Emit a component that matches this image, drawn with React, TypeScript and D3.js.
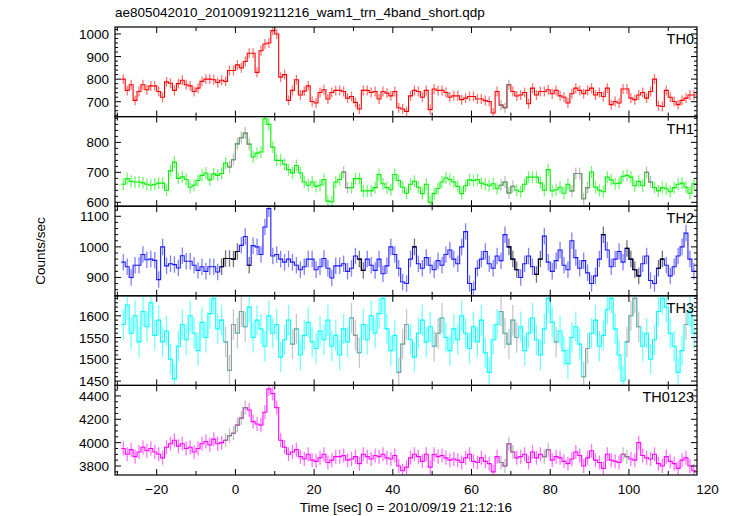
import * as d3 from "d3";

// light curve: 1 s bins starting at t = -29 s
const T0 = -29;
const title = "ae805042010_20100919211216_wam1_trn_4band_short.qdp";
const xLabel = "Time [sec] 0 = 2010/09/19 21:12:16";
const yLabel = "Counts/sec";
const xTicks = [-20, 0, 20, 40, 60, 80, 100, 120];
const panelNames = ["TH0", "TH1", "TH2", "TH3", "TH0123"];

const th0 = [
  800, 750, 775, 706, 745, 775, 753, 770, 770, 745,
  720, 788, 782, 750, 780, 795, 775, 770, 745, 760,
  790, 800, 800, 797, 785, 795, 790, 838, 838, 863,
  850, 878, 915, 915, 830, 926, 956, 960, 1015, 1000,
  809, 820, 706, 750, 797, 730, 747, 770, 701, 694,
  741, 753, 712, 741, 750, 750, 745, 716, 723, 697,
  668, 750, 750, 741, 745, 712, 745, 738, 726, 745,
  673, 668, 657, 726, 750, 745, 720, 750, 665, 756,
  750, 750, 741, 720, 726, 726, 709, 716, 723, 723,
  712, 712, 705, 701, 650, 745, 685, 673, 775, 745,
  725, 730, 741, 691, 760, 730, 745, 745, 753, 735,
  750, 726, 720, 694, 735, 760, 750, 735, 750, 760,
  730, 741, 723, 760, 687, 701, 694, 756, 756, 716,
  709, 730, 741, 716, 745, 800, 682, 679, 750, 720,
  701, 687, 706, 716, 730, 730,
];

const th1 = [
  660, 679, 670, 668, 668, 665, 660, 657, 660, 664,
  664, 640, 705, 734, 680, 685, 676, 650, 657, 673,
  690, 698, 675, 695, 690, 696, 731, 718, 742, 795,
  816, 831, 794, 751, 764, 768, 879, 860, 784, 740,
  740, 727, 709, 698, 723, 698, 668, 657, 668, 653,
  657, 676, 604, 601, 668, 676, 701, 649, 649, 679,
  679, 638, 638, 638, 649, 693, 662, 649, 642, 693,
  673, 650, 630, 660, 670, 650, 629, 660, 600, 629,
  646, 668, 682, 676, 668, 653, 629, 655, 675, 672,
  676, 664, 660, 655, 662, 645, 657, 668, 631, 653,
  640, 635, 660, 684, 684, 684, 665, 640, 709, 638,
  642, 650, 630, 660, 638, 696, 696, 612, 649, 701,
  650, 640, 635, 684, 675, 662, 664, 687, 690, 684,
  655, 670, 655, 700, 668, 649, 638, 649, 645, 635,
  649, 660, 664, 650, 630, 662,
];

const th2 = [
  950, 935, 900, 940, 940, 975, 958, 960, 956, 893,
  1000, 938, 945, 942, 931, 971, 953, 953, 940, 923,
  935, 920, 935, 935, 918, 935, 962, 962, 960, 985,
  1005, 1034, 940, 1004, 1000, 975, 1065, 1125, 970, 975,
  960, 950, 960, 950, 940, 925, 935, 960, 960, 925,
  935, 962, 930, 898, 938, 938, 945, 920, 930, 970,
  960, 923, 960, 940, 923, 960, 912, 938, 1000, 975,
  930, 885, 880, 960, 1000, 945, 930, 965, 940, 925,
  955, 940, 975, 990, 960, 945, 1000, 1050, 880, 860,
  930, 960, 985, 945, 930, 970, 955, 1040, 1000, 960,
  925, 900, 945, 970, 935, 910, 960, 1035, 950, 920,
  955, 990, 940, 925, 1020, 965, 930, 955, 915, 880,
  905, 960, 1040, 990, 935, 960, 985, 950, 995, 960,
  925, 905, 945, 970, 890, 880, 930, 960, 940, 905,
  935, 970, 1000, 1045, 960, 920,
];

const th3 = [
  1580, 1625, 1560, 1600, 1540, 1610, 1575, 1630, 1555, 1590,
  1540, 1565, 1500, 1455, 1530, 1580, 1545, 1600, 1560, 1520,
  1585, 1550, 1605, 1640, 1570, 1590, 1540, 1475, 1580, 1560,
  1610, 1575, 1620, 1550, 1590, 1570, 1530, 1600, 1560, 1580,
  1505, 1545, 1590, 1535, 1570, 1510, 1555, 1585, 1540, 1525,
  1565, 1545, 1590, 1530, 1555, 1510, 1570, 1540, 1595, 1555,
  1515, 1580, 1545, 1600, 1560, 1605, 1640, 1570, 1520, 1555,
  1470, 1535, 1580, 1545, 1505, 1560, 1590, 1540, 1575, 1530,
  1560, 1595, 1550, 1520, 1570, 1545, 1600, 1560, 1525, 1575,
  1540, 1590, 1515, 1470, 1545, 1580, 1610, 1560, 1535, 1590,
  1550, 1575, 1520, 1560, 1595, 1545, 1510, 1570, 1640, 1585,
  1540, 1565, 1520, 1490, 1550, 1575, 1535, 1460, 1525, 1560,
  1590, 1530, 1555, 1615, 1640, 1570, 1510, 1450, 1540, 1600,
  1640, 1575, 1530, 1560, 1500, 1545, 1610, 1640, 1620, 1560,
  1530, 1470, 1520, 1580, 1610, 1560,
];

const th0123 = [
  3950, 3900, 3940, 3880, 3920, 3960, 3930, 3950, 3920, 3900,
  3870, 3960, 3990, 4020, 3970, 3990, 3950, 3960, 3920, 3950,
  3990, 4010, 3980, 4030, 3990, 4000, 4020, 4060, 4080, 4150,
  4210, 4300, 4280, 4180, 4160, 4150, 4260, 4460, 4420, 4300,
  4020, 3960, 3900, 3920, 3940, 3880, 3860, 3900, 3850, 3840,
  3870, 3900, 3830, 3850, 3880, 3880, 3890, 3850, 3860, 3880,
  3820, 3900, 3880, 3860, 3890, 3880, 3900, 3870, 3860, 3890,
  3800, 3760, 3790, 3870, 3900, 3880, 3840, 3900, 3790, 3900,
  3880, 3890, 3870, 3850, 3860, 3850, 3830, 3870, 3900, 3840,
  3830, 3870, 3840, 3820, 3750, 3880, 3830, 3800, 3990, 3920,
  3870, 3880, 3900, 3830, 3920, 3870, 3900, 3880, 3940, 3850,
  3880, 3870, 3840, 3820, 3860, 3920, 3890, 3800, 3870, 3930,
  3850, 3830, 3780, 3900, 3850, 3840, 3830, 3900, 3880, 3860,
  3850, 4000, 3890, 3870, 3860, 3900, 3820, 3800, 3880, 3840,
  3820, 3780, 3850, 3870, 3800, 3760,
];

// one-sigma error per bin for each band
const errors = [22, 20, 27, 35, 60];

// time ranges drawn in the second (grey/black) colour
const th0Grey = [[67, 70]];
const th1Grey = [[-2, 4], [27, 29], [67, 71], [85, 90], [104, 106]];
const th2Grey = [[-4, 1], [3, 4], [31, 33], [45, 46], [69, 72], [76, 78], [93, 94], [99, 103], [107, 109]];
const th3Grey = [[-3, 3], [14, 16], [29, 32], [41, 44], [50, 53], [67, 72], [81, 82], [88, 90], [99, 103], [114, 115]];
const th0123Grey = [[-3, 3], [67, 71], [78, 80], [98, 100]];

const yDomains = [[634, 1031], [587, 886], [840, 1133], [1440, 1646], [3723, 4490]];
const yTicks = [[700, 800, 900, 1000], [600, 700, 800], [900, 1000, 1100], [1450, 1500, 1550, 1600], [3800, 4000, 4200, 4400]];
const yMinor = [20, 20, 20, 10, 50];

const series = [th0, th1, th2, th3, th0123];
const greys = [th0Grey, th1Grey, th2Grey, th3Grey, th0123Grey];
const colors = ["#ff0000", "#00ee00", "#1a1aff", "#00ffff", "#ff00ff"];
const greyColors = ["#777", "#888", "#000", "#999", "#888"];

const W = 735, H = 516;
const left = 115, right = 697, top = 27, panelH = 89.6;
const font = "'Liberation Sans', Arial, Helvetica, sans-serif";

const x = d3.scaleLinear().domain([-30.6, 117.3]).range([left, right]);

function Panel({ i }: { i: number }) {
  const y0 = top + i * panelH;
  const y = d3.scaleLinear().domain(yDomains[i]).range([y0 + panelH, y0]);
  const vals = series[i];
  const err = errors[i];
  const pts: [number, number][] = vals.map((v, k) => [T0 + k, v]);
  pts.push([T0 + vals.length, vals[vals.length - 1]]);
  const line = d3
    .line<[number, number]>()
    .x((d) => x(d[0]))
    .y((d) => y(d[1]))
    .curve(d3.curveStepAfter);

  const greyPaths = greys[i].map(([a, b]) => {
    const sub: [number, number][] = [];
    vals.forEach((v, k) => {
      const t = T0 + k;
      if (t >= a && t < b) sub.push([t, v]);
    });
    if (sub.length) sub.push([sub[sub.length - 1][0] + 1, sub[sub.length - 1][1]]);
    return sub;
  });
  const isGrey = (t: number) => greys[i].some(([a, b]) => t >= a && t < b);

  const [d0, d1] = yDomains[i];
  const minors = d3.range(Math.ceil(d0 / yMinor[i]) * yMinor[i], d1, yMinor[i]);
  const xMinor = d3.range(-30, 118, 10);
  const clipId = `clip${i}`;

  return (
    <g>
      <clipPath id={clipId}>
        <rect x={left} y={y0} width={right - left} height={panelH} />
      </clipPath>
      <g clipPath={`url(#${clipId})`}>
        {vals.map((v, k) => {
          const t = T0 + k;
          return (
            <line
              key={k}
              x1={x(t + 0.5)}
              x2={x(t + 0.5)}
              y1={y(v - err)}
              y2={y(v + err)}
              stroke={isGrey(t) ? greyColors[i] : colors[i]}
              strokeOpacity={0.55}
              strokeWidth={1.3}
            />
          );
        })}
        <path d={line(pts) ?? ""} fill="none" stroke={colors[i]} strokeWidth={1.1} />
        {greyPaths.map((p, k) => (
          <path key={k} d={line(p) ?? ""} fill="none" stroke={greyColors[i]} strokeWidth={1.1} />
        ))}
      </g>
      <rect x={left} y={y0} width={right - left} height={panelH} fill="none" stroke="#000" strokeWidth={1.2} />
      {minors.map((m) => {
        const major = yTicks[i].includes(m);
        const len = major ? 6 : 3;
        return (
          <g key={m} stroke="#000" strokeWidth={1}>
            <line x1={left} x2={left + len} y1={y(m)} y2={y(m)} />
            <line x1={right} x2={right - len} y1={y(m)} y2={y(m)} />
          </g>
        );
      })}
      {xMinor.map((t) => {
        const len = t % 20 === 0 ? 6 : 4;
        return (
          <g key={t} stroke="#000" strokeWidth={1}>
            <line x1={x(t)} x2={x(t)} y1={y0} y2={y0 + len} />
            <line x1={x(t)} x2={x(t)} y1={y0 + panelH} y2={y0 + panelH - len} />
          </g>
        );
      })}
      {yTicks[i].map((v) => (
        <text key={v} x={left - 6} y={y(v) + 5} textAnchor="end" fontSize={13.5} fontFamily={font}>
          {v}
        </text>
      ))}
      <text x={right - 3} y={y0 + 17} textAnchor="end" fontSize={14.5} fontFamily={font}>
        {panelNames[i]}
      </text>
    </g>
  );
}

export default function App() {
  const bottom = top + panelH * 5;
  return (
    <svg
      width={W}
      height={H}
      style={{ position: "absolute", left: 0, top: 0, background: "#fff" }}
    >
      <text x={left} y={17} fontSize={13.5} fontFamily={font}>
        {title}
      </text>
      {panelNames.map((_, i) => (
        <Panel key={i} i={i} />
      ))}
      {xTicks.map((t) => (
        <text key={t} x={x(t)} y={bottom + 19} textAnchor="middle" fontSize={13.5} fontFamily={font}>
          {t < 0 ? `\u2212${-t}` : t}
        </text>
      ))}
      <text x={(left + right) / 2} y={bottom + 37} textAnchor="middle" fontSize={13.5} fontFamily={font}>
        {xLabel}
      </text>
      <text
        transform={`translate(45, ${top + panelH * 2.5}) rotate(-90)`}
        textAnchor="middle"
        fontSize={13.5}
        fontFamily={font}
      >
        {yLabel}
      </text>
    </svg>
  );
}
